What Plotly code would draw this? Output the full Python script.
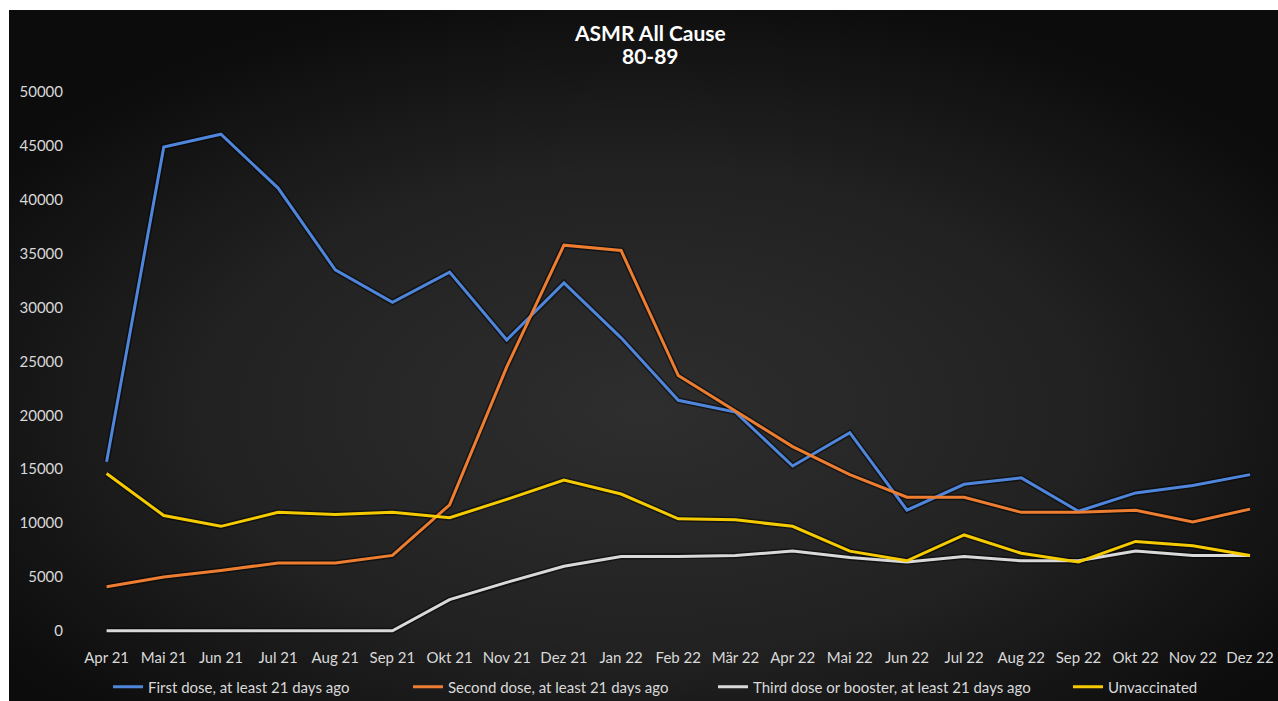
import urllib.parse
import plotly.graph_objects as go

months = ["Apr 21", "Mai 21", "Jun 21", "Jul 21", "Aug 21", "Sep 21", "Okt 21", "Nov 21",
          "Dez 21", "Jan 22", "Feb 22", "Mär 22", "Apr 22", "Mai 22", "Jun 22", "Jul 22",
          "Aug 22", "Sep 22", "Okt 22", "Nov 22", "Dez 22"]

first_dose = [15700, 44900, 46100, 41100, 33500, 30500, 33300, 27000, 32300, 27200, 21400,
              20300, 15300, 18400, 11200, 13600, 14200, 11100, 12800, 13500, 14500]
second_dose = [4100, 5000, 5600, 6300, 6300, 7000, 11700, 24500, 35800, 35300, 23700,
               20400, 17100, 14500, 12400, 12400, 11000, 11000, 11200, 10100, 11300]
third_dose = [0, 0, 0, 0, 0, 0, 2900, 4500, 6000, 6900, 6900,
              7000, 7400, 6800, 6400, 6900, 6500, 6500, 7400, 7000, 7000]
unvaccinated = [14600, 10700, 9700, 11000, 10800, 11000, 10500, 12200, 14000, 12700, 10400,
                10300, 9700, 7400, 6500, 8900, 7200, 6400, 8300, 7900, 7000]

series_names = ["First dose, at least 21 days ago", "Second dose, at least 21 days ago",
                "Third dose or booster, at least 21 days ago", "Unvaccinated"]
series_values = [first_dose, second_dose, third_dose, unvaccinated]
series_colors = ["#4F86DC", "#ED7D31", "#D9D9D9", "#F5CB00"]

y_ticks = [0, 5000, 10000, 15000, 20000, 25000, 30000, 35000, 40000, 45000, 50000]

W, H = 1278, 701
L, R, T, B = 78, 8, 76, 54
pw = W - L - R
ph = H - T - B

legend_ids = ["legend", "legend2", "legend3", "legend4"]
legend_px = [108, 408, 713, 1068]

fig = go.Figure()
for vals in series_values:
    fig.add_trace(go.Scatter(x=months, y=vals, mode="lines", showlegend=False,
                             hoverinfo="skip",
                             line=dict(color="rgba(0,0,0,0.5)", width=6)))
for name, vals, col, lid in zip(series_names, series_values, series_colors, legend_ids):
    fig.add_trace(go.Scatter(x=months, y=vals, mode="lines", name=name, legend=lid,
                             line=dict(color=col, width=3)))

svg = ("<svg xmlns='http://www.w3.org/2000/svg' width='1269' height='691' viewBox='0 0 1269 691' preserveAspectRatio='none'>"
       "<defs><radialGradient id='g' cx='50%' cy='58%' r='62%'>"
       "<stop offset='0' stop-color='#2e2e2e'/><stop offset='0.55' stop-color='#222222'/>"
       "<stop offset='1' stop-color='#0c0c0c'/></radialGradient></defs>"
       "<rect width='1269' height='691' fill='url(#g)'/></svg>")
src = "data:image/svg+xml;charset=utf-8," + urllib.parse.quote(svg)

x0 = (9 - L) / pw
x1 = (W - L) / pw
ytop = (H - B - 10) / ph
ybot = (H - B - H) / ph

legend_common = dict(orientation="h", xanchor="left", yref="container",
                     y=1 - 687 / H, yanchor="middle",
                     font=dict(family="Lato", size=15, color="#D9D9D9"),
                     bgcolor="rgba(0,0,0,0)", itemwidth=30, tracegroupgap=0)

layout_legends = {}
for lid, px in zip(legend_ids, legend_px):
    layout_legends[lid] = dict(legend_common, xref="container", x=px / W)

fig.update_layout(
    width=W, height=H, autosize=False,
    margin=dict(l=L, r=R, t=T, b=B, autoexpand=False),
    paper_bgcolor="white",
    plot_bgcolor="rgba(0,0,0,0)",
    images=[dict(source=src, xref="paper", yref="paper", x=x0, y=ytop,
                 sizex=x1 - x0, sizey=ytop - ybot, sizing="stretch",
                 xanchor="left", yanchor="top", layer="below")],
    annotations=[
        dict(text="<b>ASMR All Cause</b>", xref="paper", yref="paper",
             x=(650 - L) / pw, y=(H - B - 33) / ph, xanchor="center", yanchor="middle",
             showarrow=False, font=dict(family="Lato", size=21, color="white")),
        dict(text="<b>80-89</b>", xref="paper", yref="paper",
             x=(650 - L) / pw, y=(H - B - 56) / ph, xanchor="center", yanchor="middle",
             showarrow=False, font=dict(family="Lato", size=21, color="white")),
    ],
    font=dict(family="Lato", color="#D9D9D9"),
    xaxis=dict(type="category", range=[-0.5, 20.35], showgrid=False, zeroline=False,
               showline=False, ticks="", tickfont=dict(size=15, color="#D9D9D9"),
               tickangle=0, automargin=False),
    yaxis=dict(range=[-1500, 51500], tickvals=y_ticks, ticktext=[str(v) for v in y_ticks],
               showgrid=False, zeroline=False, showline=False, ticks="",
               tickfont=dict(size=15, color="#D9D9D9"), ticklabelstandoff=14,
               automargin=False),
    **layout_legends,
)

fig.write_html("out.html", config={"displayModeBar": False},
               post_script="document.body.style.margin='0';document.body.style.overflow='hidden';")
